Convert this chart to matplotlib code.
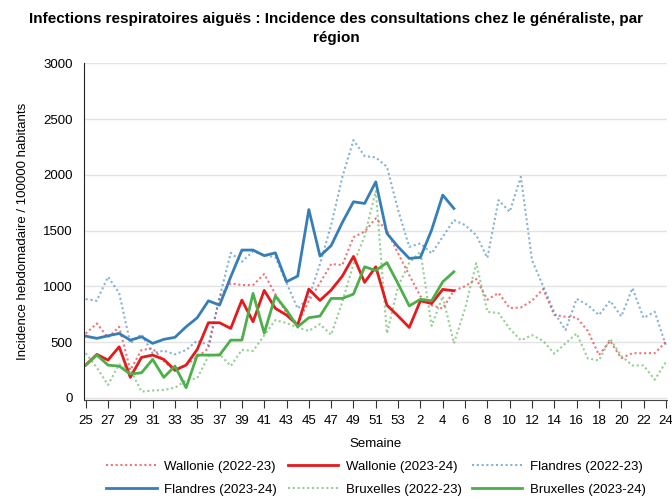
import numpy as np
import matplotlib
matplotlib.use("Agg")
import matplotlib.pyplot as plt

plt.rcParams["font.family"] = ["Liberation Sans", "DejaVu Sans"]

# Weeks of the season (week 25 to week 24 of the next year)
weeks = list(range(25, 54)) + list(range(1, 25))

wallonie_2223 = [575, 667, 540, 637, 248, 428, 443, 330, 240, 293, 368, 443, 906,
                 1026, 1011, 1011, 1110, 930, 760, 660, 870, 1030, 1200, 1190, 1440,
                 1490, 1610, 1500, 1295, 1100, 910, 830, 800, 960, 1000, 1065, 880,
                 940, 805, 810, 870, 975, 742, 727, 720, 600, 383, 510, 355, 400,
                 400, 400, 502]
wallonie_2324 = [293, 389, 338, 457, 183, 362, 383, 344, 248, 293, 434, 673, 673,
                 622, 876, 682, 963, 802, 742, 652, 975, 873, 966, 1091, 1268, 1035,
                 1175, 831, 733, 631, 870, 845, 972, 960]
flandres_2223 = [885, 870, 1085, 940, 488, 570, 400, 422, 390, 428, 514, 470, 900,
                 1300, 1220, 1313, 1280, 1260, 1030, 800, 900, 1200, 1550, 1980, 2311,
                 2168, 2156, 2072, 1683, 1354, 1385, 1295, 1444, 1594, 1549, 1459,
                 1255, 1773, 1668, 1982, 1235, 1000, 765, 607, 887, 831, 742, 870,
                 730, 984, 716, 771, 468]
flandres_2324 = [553, 533, 556, 577, 517, 547, 488, 524, 542, 637, 718, 870, 831,
                 1085, 1325, 1325, 1275, 1300, 1041, 1091, 1688, 1271, 1365, 1572,
                 1758, 1743, 1937, 1474, 1354, 1250, 1259, 1504, 1818, 1698]
bruxelles_2223 = [400, 270, 115, 300, 255, 55, 65, 70, 90, 155, 175, 375, 390, 285,
                  430, 420, 560, 697, 670, 630, 600, 660, 565, 860, 1200, 1450, 1855,
                  577, 1000, 1210, 1310, 645, 910, 488, 800, 1208, 771, 760, 620, 515,
                  562, 510, 395, 488, 577, 353, 335, 530, 375, 290, 290, 162, 320]
bruxelles_2324 = [293, 383, 293, 284, 213, 224, 344, 183, 284, 90, 383, 383, 383,
                  517, 517, 936, 580, 913, 786, 637, 718, 733, 891, 891, 930, 1175,
                  1142, 1212, 1023, 824, 883, 870, 1040, 1130]

RED = "#e41a1c"
BLUE = "#377eb8"
GREEN = "#4daf4a"


def pad(values):
    """Pad a partial season with NaN up to the full number of weeks."""
    out = np.full(len(weeks), np.nan)
    out[:len(values)] = values
    return out


x = np.arange(len(weeks))

fig = plt.figure(figsize=(6.72, 4.99), dpi=100)
ax = fig.add_axes([0.125, 0.1984, 0.8676, 0.6747])

dotted = dict(linestyle=(0, (1, 1.3)), linewidth=1.5, alpha=0.6)
solid = dict(linestyle="-", linewidth=2.0)

l_w22, = ax.plot(x, wallonie_2223, color=RED, label="Wallonie (2022-23)", **dotted)
l_f22, = ax.plot(x, flandres_2223, color=BLUE, label="Flandres (2022-23)", **dotted)
l_b22, = ax.plot(x, bruxelles_2223, color=GREEN, label="Bruxelles (2022-23)", **dotted)
l_w23, = ax.plot(x, pad(wallonie_2324), color=RED, label="Wallonie (2023-24)", **solid)
l_f23, = ax.plot(x, pad(flandres_2324), color=BLUE, label="Flandres (2023-24)", **solid)
l_b23, = ax.plot(x, pad(bruxelles_2324), color=GREEN, label="Bruxelles (2023-24)", **solid)

ax.set_xlim(-0.15, 52.1)
ax.set_ylim(-20, 3000)
ax.set_yticks(range(0, 3001, 500))
ax.set_xticks(x[::2])
ax.set_xticklabels([str(w) for w in weeks[::2]], fontsize=9.5)
ax.tick_params(axis="y", length=0, labelsize=9.5, pad=8)
ax.tick_params(axis="x", length=6, direction="out", color="#333333", pad=5)

ax.grid(True, axis="y", color="#e3e3e3", linewidth=1)
ax.set_axisbelow(True)
for side in ("top", "right"):
    ax.spines[side].set_visible(False)
ax.spines["left"].set_color("#222222")
ax.spines["bottom"].set_color("#444444")

ax.set_xlabel("Semaine", fontsize=9.5, labelpad=8)
ax.set_ylabel("Incidence hebdomadaire / 100000 habitants", fontsize=9.5, labelpad=10)

fig.suptitle(
    "Infections respiratoires aiguës : Incidence des consultations chez le généraliste, par\nrégion",
    fontsize=11, fontweight="bold", y=0.975, linespacing=1.45,
)

handles = [l_w22, l_f23, l_w23, l_b22, l_f22, l_b23]
fig.legend(
    handles=handles,
    labels=[h.get_label() for h in handles],
    loc="lower center",
    bbox_to_anchor=(0.56, -0.018),
    ncol=3,
    frameon=False,
    fontsize=9.5,
    handlelength=3.8,
    handletextpad=0.6,
    columnspacing=0.8,
    labelspacing=0.85,
)

fig.savefig("out.png", dpi=100)
